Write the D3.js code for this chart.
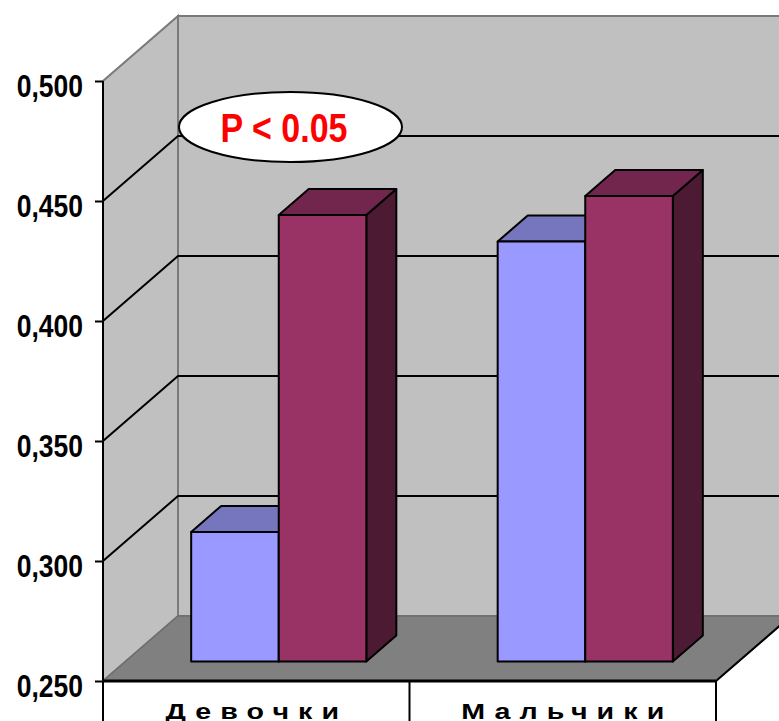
<!DOCTYPE html>
<html>
<head>
<meta charset="utf-8">
<script src="https://cdn.jsdelivr.net/npm/d3@7"></script>
<style>
  body { margin: 0; background: #fff; }
  svg { display: block; font-family: "Liberation Sans", Arial, sans-serif; }
</style>
</head>
<body>
<svg width="779" height="721"></svg>
<script>
// data
var categories = ["Девочки", "Мальчики"];
var seriesBlue = [0.304, 0.425];
var seriesRed = [0.436, 0.444];
var yTicks = [0.25, 0.30, 0.35, 0.40, 0.45, 0.50];
var note = "P < 0.05";

var svg = d3.select("svg");

// front plane + depth offset of the 3d box
var left = 103, right = 716, DX = 75, DY = 65;
var y = d3.scaleLinear().domain([0.25, 0.5]).range([681, 81]);
var x = d3.scaleBand().domain(categories).range([left, right]);

function pt(px, v, d) { return [px + d * DX, y(v) - d * DY]; }
function poly(a) { return a.map(function(p) { return p.join(","); }).join(" "); }

var y0 = y.domain()[0], y1 = y.domain()[1];

// back wall
svg.append("polygon")
  .attr("points", poly([pt(left, y0, 1), pt(right + 20, y0, 1), pt(right + 20, y1, 1), pt(left, y1, 1)]))
  .attr("fill", "#c0c0c0").attr("stroke", "#7a7a7a").attr("stroke-width", 2);

// side wall
svg.append("polygon")
  .attr("points", poly([pt(left, y0, 0), pt(left, y0, 1), pt(left, y1, 1), pt(left, y1, 0)]))
  .attr("fill", "#c0c0c0").attr("stroke", "#7a7a7a").attr("stroke-width", 2);

// floor
svg.append("polygon")
  .attr("points", poly([pt(left, y0, 0), pt(right, y0, 0), pt(right, y0, 1), pt(left, y0, 1)]))
  .attr("fill", "#808080").attr("stroke", "#6e6e6e").attr("stroke-width", 1.5);

// gridlines (side + back)
var grid = yTicks.filter(function(t) { return t > y0 && t < y1; });
svg.selectAll(".grid").data(grid).enter().append("polyline")
  .attr("class", "grid")
  .attr("points", function(t) { return poly([pt(left, t, 0), pt(left, t, 1), pt(right + 80, t, 1)]); })
  .attr("fill", "none").attr("stroke", "#000").attr("stroke-width", 2);

// floor right edge
svg.append("line")
  .attr("x1", pt(right, y0, 0)[0]).attr("y1", pt(right, y0, 0)[1])
  .attr("x2", pt(right, y0, 1)[0]).attr("y2", pt(right, y0, 1)[1])
  .attr("stroke", "#000").attr("stroke-width", 2);

// bars
var bw = x.bandwidth() / 3.5;
var bars = [];
categories.forEach(function(c, i) {
  var bx = x(c) + bw * 0.75;
  bars.push({x0: bx, x1: bx + bw, v: seriesBlue[i], front: "#9999ff", top: "#7676be", side: "#4c4c80"});
  bars.push({x0: bx + bw, x1: bx + 2 * bw, v: seriesRed[i], front: "#993366", top: "#73264d", side: "#4d1a33"});
});
var d0 = 0.3, d1 = 0.7;

var bar = svg.selectAll(".bar").data(bars).enter().append("g").attr("class", "bar");
bar.append("polygon")
  .attr("points", function(b) { return poly([pt(b.x1, y0, d0), pt(b.x1, y0, d1), pt(b.x1, b.v, d1), pt(b.x1, b.v, d0)]); })
  .attr("fill", function(b) { return b.side; });
bar.append("polygon")
  .attr("points", function(b) { return poly([pt(b.x0, b.v, d0), pt(b.x1, b.v, d0), pt(b.x1, b.v, d1), pt(b.x0, b.v, d1)]); })
  .attr("fill", function(b) { return b.top; });
bar.append("polygon")
  .attr("points", function(b) { return poly([pt(b.x0, y0, d0), pt(b.x1, y0, d0), pt(b.x1, b.v, d0), pt(b.x0, b.v, d0)]); })
  .attr("fill", function(b) { return b.front; });
bar.selectAll("polygon").attr("stroke", "#000").attr("stroke-width", 2).attr("stroke-linejoin", "round");

// y axis
var fmt = d3.format(".3f");
var yAxis = svg.append("g")
  .attr("transform", "translate(" + left + ",0)")
  .call(d3.axisLeft(y).tickValues(yTicks).tickSize(8).tickPadding(12)
    .tickFormat(function(d) { return fmt(d).replace(".", ","); }));
yAxis.select(".domain").remove();
yAxis.selectAll(".tick line").attr("stroke", "#000").attr("stroke-width", 2);
yAxis.selectAll(".tick text")
  .attr("dy", null).attr("x", null)
  .attr("transform", "translate(-20,15) scale(1,1.16)")
  .attr("font-size", 26.5).attr("font-weight", "bold").attr("fill", "#000")
  .attr("font-family", "'Liberation Sans', Arial, sans-serif");

// axis line down to bottom, category box
svg.append("line").attr("x1", left).attr("x2", left).attr("y1", y(y1)).attr("y2", 721)
  .attr("stroke", "#000").attr("stroke-width", 2);
svg.append("line").attr("x1", left).attr("x2", right).attr("y1", y(y0)).attr("y2", y(y0))
  .attr("stroke", "#000").attr("stroke-width", 3);
svg.selectAll(".catdiv").data(categories.slice(1).concat(["end"])).enter().append("line")
  .attr("class", "catdiv")
  .attr("x1", function(c) { return c === "end" ? right : x(c); })
  .attr("x2", function(c) { return c === "end" ? right : x(c); })
  .attr("y1", y(y0)).attr("y2", 721)
  .attr("stroke", "#000").attr("stroke-width", 2);

// category labels: wide, spaced letters
var ls = 7, sx = 1.3;
svg.selectAll(".cat").data(categories).enter().append("text")
  .attr("class", "cat")
  .attr("transform", function(c, i) {
    return "translate(" + (x(c) + x.bandwidth() / 2 + (i ? 0 : -4)) + ",719) scale(" + sx + ",1)";
  })
  .attr("x", ls / 2)
  .attr("text-anchor", "middle")
  .attr("font-size", 22).attr("font-weight", "bold")
  .attr("letter-spacing", ls)
  .text(function(c) { return c; });

// annotation
svg.append("ellipse")
  .attr("cx", 290.5).attr("cy", 127).attr("rx", 111.5).attr("ry", 35)
  .attr("fill", "#fff").attr("stroke", "#000").attr("stroke-width", 2);
svg.append("text")
  .attr("transform", "translate(284,142) scale(1,1.18)")
  .attr("text-anchor", "middle")
  .attr("font-size", 34).attr("font-weight", "bold").attr("fill", "#ff0000")
  .text(note);
</script>
</body>
</html>
